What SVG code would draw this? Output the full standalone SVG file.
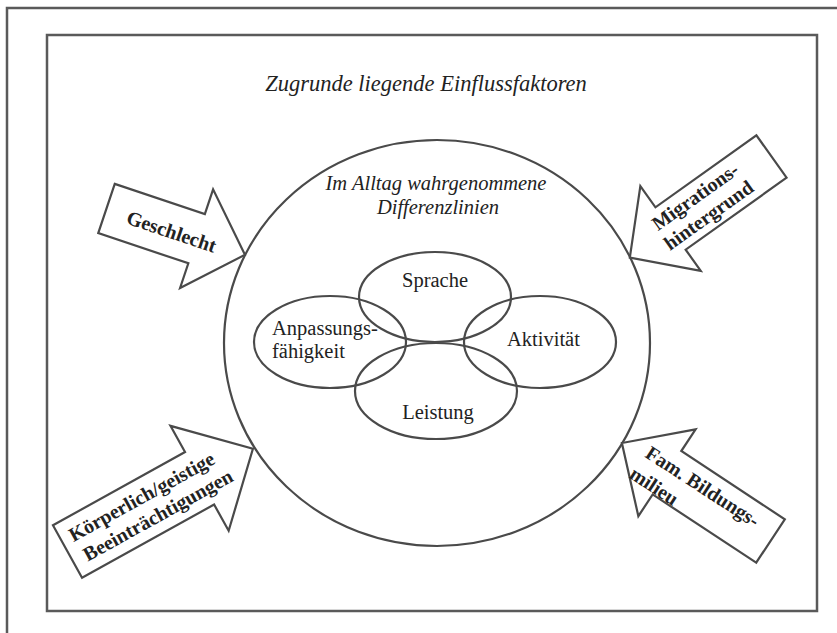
<svg xmlns="http://www.w3.org/2000/svg" width="837" height="633" viewBox="0 0 837 633">
<style>
.frame{fill:none;stroke:#5a5a5a;stroke-width:2.5}
.shape{fill:#fff;stroke:#4a4a4a;stroke-width:2.2}
.ell{fill:none;stroke:#4a4a4a;stroke-width:2.2}
.t{font-family:"Liberation Serif","Times New Roman",serif;font-size:20.5px;fill:#222}
.it{font-style:italic}
.b{font-weight:bold;font-size:20px}
.m{text-anchor:middle}
</style>
<rect width="837" height="633" fill="#fff"/>
<path class="frame" d="M7,633 V8 H837"/>
<rect class="frame" x="47" y="35" width="770" height="576"/>
<text class="t it m" x="426" y="91" style="font-size:22.5px">Zugrunde liegende Einflussfaktoren</text>

<g id="differenzlinien">
<ellipse class="ell" cx="437" cy="343" rx="213" ry="203"/>
<text class="t it m" x="436" y="190">Im Alltag wahrgenommene</text>
<text class="t it m" x="438" y="214">Differenzlinien</text>
</g>

<g id="sprache">
<ellipse class="ell" cx="435" cy="297" rx="76" ry="45"/>
<text class="t m" x="435" y="287">Sprache</text>
</g>
<g id="anpassung">
<ellipse class="ell" cx="330" cy="342" rx="76" ry="46"/>
<text class="t" x="272" y="335">Anpassungs-</text>
<text class="t" x="272" y="358">fähigkeit</text>
</g>
<g id="aktivitaet">
<ellipse class="ell" cx="540" cy="342" rx="76" ry="46"/>
<text class="t" x="507" y="346">Aktivität</text>
</g>
<g id="leistung">
<ellipse class="ell" cx="436" cy="391" rx="81" ry="48"/>
<text class="t m" x="438" y="419">Leistung</text>
</g>

<g id="connectors">
<g id="geschlecht">
<polygon class="shape" transform="translate(106.5,208.5) rotate(18.5)" points="0,-26 95,-26 95,-52 146,0 95,52 95,26 0,26"/>
<g transform="translate(106.5,208.5) rotate(18.5)"><text class="t b m" x="69" y="8">Geschlecht</text></g>
</g>
<g id="migration">
<polygon class="shape" transform="translate(771.5,156.5) rotate(144.5)" points="0,-26 124,-26 124,-52 174,0 124,52 124,26 0,26"/>
<g transform="translate(702,206) rotate(-35.5)"><text class="t b m" x="0" y="-5">Migrations-</text><text class="t b m" x="0" y="18">hintergrund</text></g>
</g>
<g id="koerper">
<polygon class="shape" transform="translate(67.5,551.5) rotate(-29)" points="0,-30 151,-30 151,-60 212,0 151,60 151,30 0,30"/>
<g transform="translate(73.5,542.2) rotate(-29)"><text class="t b" x="0" y="0">Körperlich/geistige</text><text class="t b" x="3" y="24">Beeinträchtigungen</text></g>
</g>
<g id="bildung">
<polygon class="shape" transform="translate(770.5,541) rotate(213.4)" points="0,-26 124,-26 124,-52 178,0 124,52 124,26 0,26"/>
<g transform="translate(644,456.5) rotate(33)"><text class="t b" x="0" y="0">Fam. Bildungs-</text><text class="t b" x="-2" y="26">milieu</text></g>
</g>
</g>
</svg>
